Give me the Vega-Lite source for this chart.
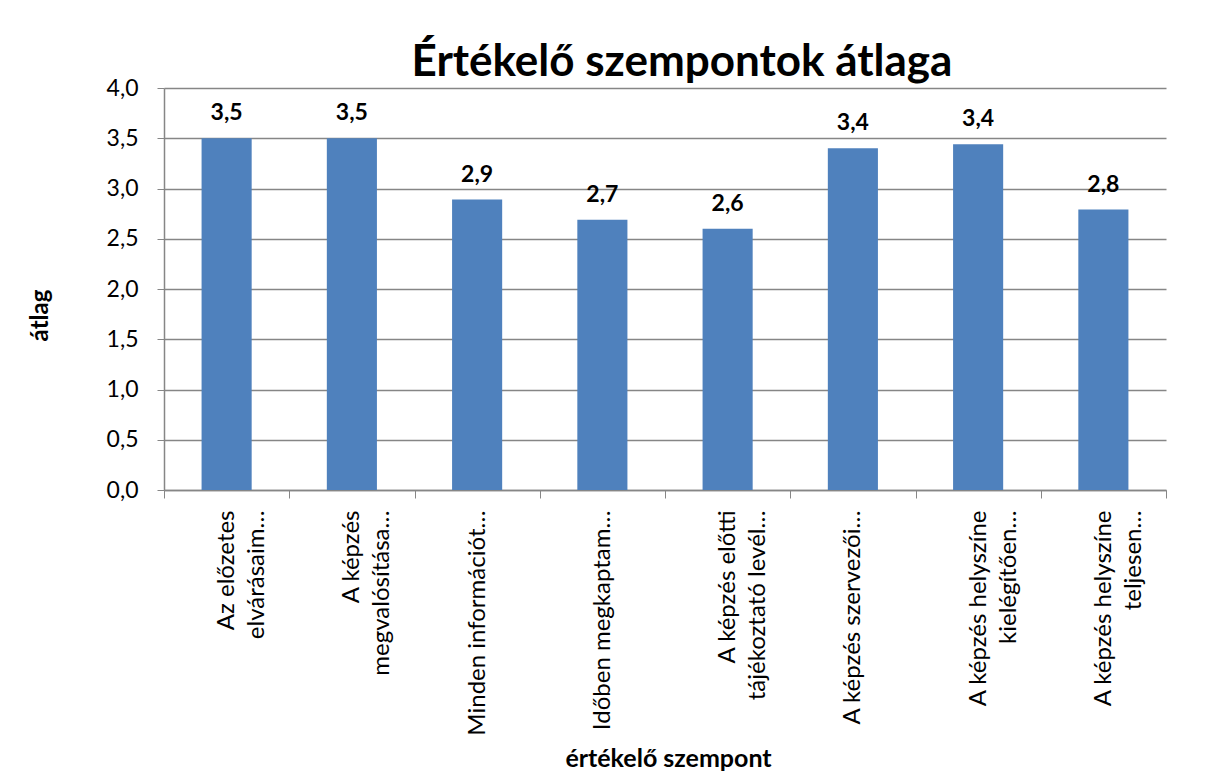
{
  "$schema": "https://vega.github.io/schema/vega-lite/v6.json",
  "width": 1002,
  "height": 402,
  "autosize": {"type": "none"},
  "padding": {"left": 164, "top": 88, "right": 39, "bottom": 286},
  "background": "white",
  "title": {
    "text": "Értékelő szempontok átlaga",
    "font": "Lato",
    "fontSize": 44,
    "fontWeight": "bold",
    "color": "black",
    "anchor": "middle",
    "dx": 17,
    "offset": -8
  },
  "data": {
    "values": [
      {"szempont": "Az előzetes|elvárásaim…", "atlag": 3.5},
      {"szempont": "A képzés|megvalósítása…", "atlag": 3.5},
      {"szempont": "Minden információt…", "atlag": 2.89},
      {"szempont": "Időben megkaptam…", "atlag": 2.69},
      {"szempont": "A képzés előtti|tájékoztató levél…", "atlag": 2.6},
      {"szempont": "A képzés szervezői…", "atlag": 3.4},
      {"szempont": "A képzés helyszíne|kielégítően…", "atlag": 3.44},
      {"szempont": "A képzés helyszíne|teljesen…", "atlag": 2.79}
    ]
  },
  "encoding": {
    "x": {
      "field": "szempont",
      "type": "nominal",
      "sort": null,
      "scale": {"paddingInner": 0, "paddingOuter": 0},
      "axis": {
        "title": "értékelő szempont",
        "titleFont": "Lato",
        "titleFontSize": 25,
        "titleFontWeight": "bold",
        "titleColor": "black",
        "titleX": 504,
        "titleY": 268,
        "titleAlign": "center",
        "titleBaseline": "middle",
        "labelExpr": "split(datum.label, '|')",
        "labelAngle": -90,
        "labelAlign": "right",
        "labelBaseline": "middle",
        "labelFont": "Lato",
        "labelFontSize": 24,
        "labelLineHeight": 30,
        "labelColor": "black",
        "labelPadding": 12,
        "labelLimit": 400,
        "tickBand": "extent",
        "tickSize": 8,
        "tickColor": "#868686",
        "domainColor": "#868686",
        "domainWidth": 1.5,
        "grid": false,
        "encode": {
          "labels": {
            "align": {"value": {"expr": "indexof(datum.value, '|') >= 0 ? 'center' : 'right'"}},
            "dy": {"value": {"expr": "indexof(datum.value, '|') >= 0 ? -15 : 0"}},
            "dx": {"value": {"expr": "indexof(datum.value, 'elvárásaim') >= 0 ? -65 : indexof(datum.value, 'megvalósítása') >= 0 ? -83 : indexof(datum.value, 'tájékoztató') >= 0 ? -96 : indexof(datum.value, 'helyszíne') >= 0 ? -98 : 0"}}
          }
        }
      }
    },
    "y": {
      "field": "atlag",
      "type": "quantitative",
      "scale": {"domain": [0, 4], "nice": false},
      "axis": {
        "title": "átlag",
        "titleFont": "Lato",
        "titleFontSize": 24,
        "titleFontWeight": "bold",
        "titleColor": "black",
        "titleAngle": -90,
        "titleX": -124,
        "titleY": 227,
        "titleAlign": "center",
        "titleBaseline": "middle",
        "values": [0, 0.5, 1, 1.5, 2, 2.5, 3, 3.5, 4],
        "format": ".1f",
        "labelFont": "Lato",
        "labelFontSize": 23,
        "labelColor": "black",
        "labelPadding": 19,
        "tickSize": 7,
        "tickColor": "#868686",
        "domainColor": "#868686",
        "domainWidth": 1.5,
        "gridColor": "#868686",
        "gridWidth": 1.5
      }
    }
  },
  "layer": [
    {"mark": {"type": "bar", "color": "#4F81BD", "width": {"band": 0.4}}},
    {
      "mark": {"type": "text", "font": "Lato", "fontSize": 23, "fontWeight": "bold", "color": "black", "baseline": "alphabetic", "dy": -18},
      "encoding": {"text": {"field": "atlag", "type": "quantitative", "format": ".1f"}}
    }
  ],
  "config": {
    "view": {"stroke": null},
    "locale": {"number": {"decimal": ",", "thousands": " ", "grouping": [3], "currency": ["", " Ft"]}}
  }
}
